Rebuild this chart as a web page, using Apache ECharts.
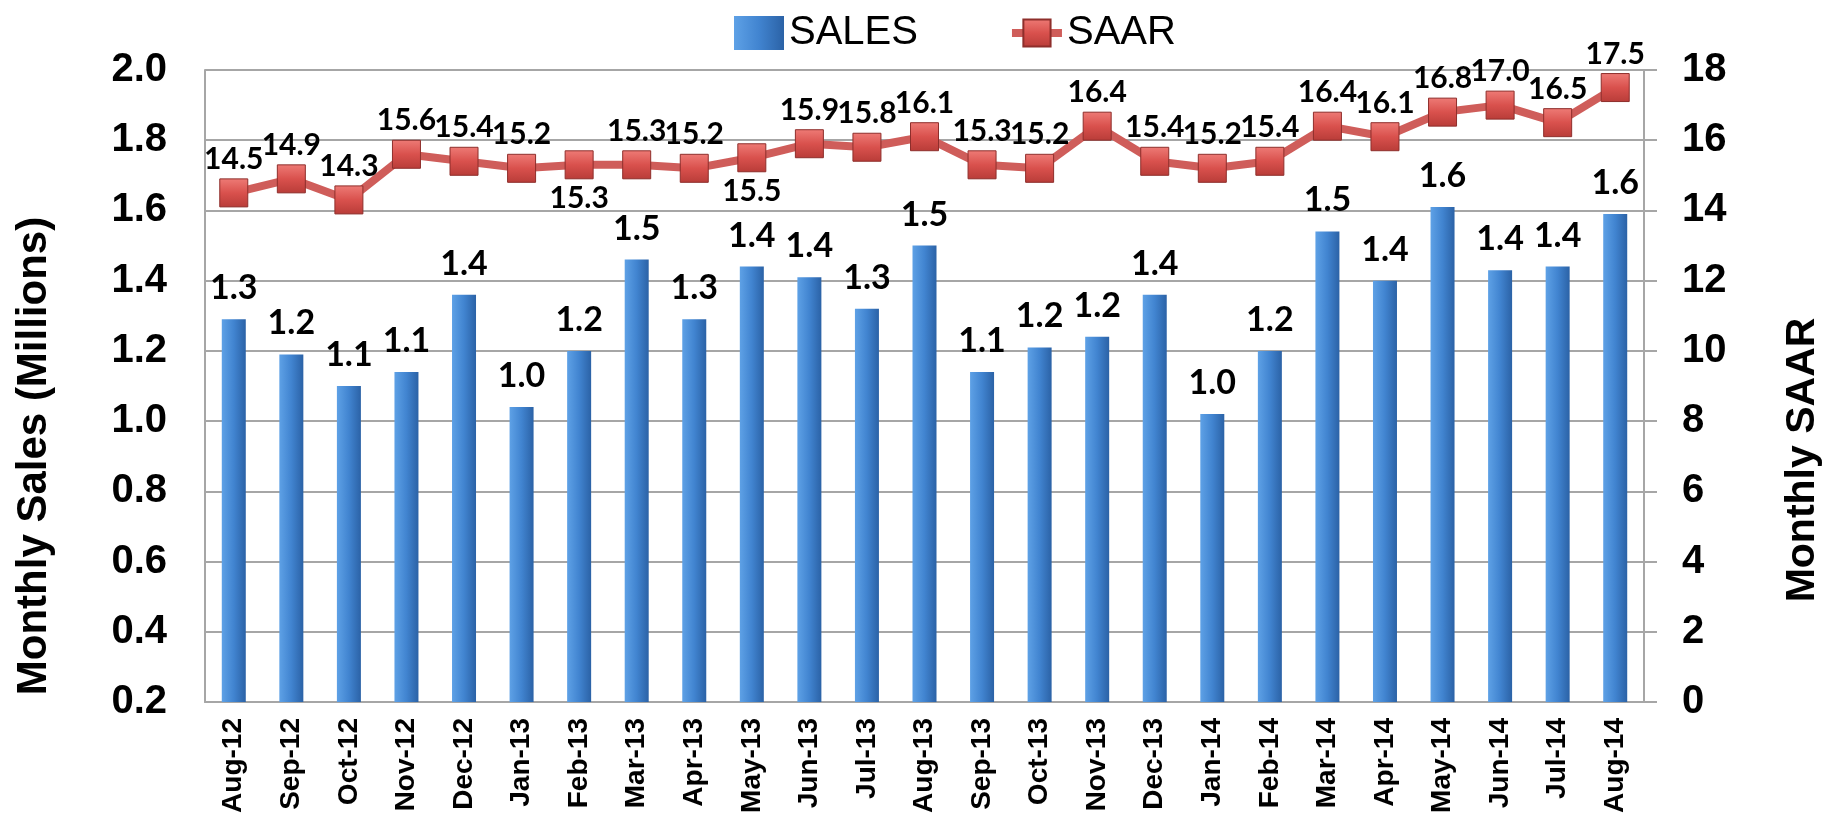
<!DOCTYPE html>
<html>
<head>
<meta charset="utf-8">
<title>Monthly Sales and SAAR</title>
<script src="https://cdn.jsdelivr.net/npm/echarts@6/dist/echarts.min.js"></script>
<style>
  html, body { margin: 0; padding: 0; background: #fff; }
  #chart { width: 1846px; height: 822px; }
</style>
</head>
<body>
<div id="chart"></div>
<script>
// months on the x axis
var categories = ['Aug-12', 'Sep-12', 'Oct-12', 'Nov-12', 'Dec-12', 'Jan-13', 'Feb-13', 'Mar-13',
  'Apr-13', 'May-13', 'Jun-13', 'Jul-13', 'Aug-13', 'Sep-13', 'Oct-13', 'Nov-13', 'Dec-13',
  'Jan-14', 'Feb-14', 'Mar-14', 'Apr-14', 'May-14', 'Jun-14', 'Jul-14', 'Aug-14'];

// monthly sales, millions (left axis)
var sales = [1.29, 1.19, 1.10, 1.14, 1.36, 1.04, 1.20, 1.46, 1.29, 1.44, 1.41, 1.32, 1.50,
  1.14, 1.21, 1.24, 1.36, 1.02, 1.20, 1.54, 1.40, 1.61, 1.43, 1.44, 1.59];

// seasonally adjusted annual rate (right axis)
var saar = [14.5, 14.9, 14.3, 15.6, 15.4, 15.2, 15.3, 15.3, 15.2, 15.5, 15.9, 15.8, 16.1,
  15.3, 15.2, 16.4, 15.4, 15.2, 15.4, 16.4, 16.1, 16.8, 17.0, 16.5, 17.5];

// axis ticks
var salesTicks = { min: 0.2, max: 2.0, step: 0.2 };
var saarTicks = { min: 0, max: 18, step: 2 };

// SAAR points whose label sits under the marker
var saarLabelBelow = ['Feb-13', 'May-13'];

var chart = echarts.init(document.getElementById('chart'));

var barColor = new echarts.graphic.LinearGradient(0, 0, 1, 0, [
  { offset: 0, color: '#5ea1e6' },
  { offset: 0.5, color: '#4184d0' },
  { offset: 1, color: '#2b62a6' }
]);
var markColor = new echarts.graphic.LinearGradient(0, 0, 0, 1, [
  { offset: 0, color: '#ee7b76' },
  { offset: 0.5, color: '#d9514d' },
  { offset: 1, color: '#b83c38' }
]);

var saarData = saar.map(function (v, i) {
  var below = saarLabelBelow.indexOf(categories[i]) >= 0;
  return { value: v, label: { position: below ? 'bottom' : 'top' } };
});

var axisFont = 'Liberation Sans, Arial, sans-serif';
var labelFont = 'Lato, Calibri, sans-serif';

chart.setOption({
  animation: false,
  backgroundColor: '#fff',
  textStyle: { fontFamily: axisFont },
  grid: { left: 205, right: 202, top: 70, bottom: 120 },
  legend: {
    left: 729,
    top: 8,
    itemWidth: 50,
    itemHeight: 34,
    itemGap: 90,
    textStyle: { fontFamily: axisFont, fontSize: 40, color: '#000' },
    data: [
      { name: 'SALES', icon: 'rect' },
      { name: 'SAAR', lineStyle: { width: 8, color: '#cf5d5a' } }
    ]
  },
  xAxis: {
    type: 'category',
    data: categories,
    axisLine: { lineStyle: { color: '#a6a6a6', width: 2 } },
    axisTick: { show: false },
    axisLabel: {
      rotate: 90,
      margin: 16,
      color: '#000',
      fontWeight: 'bold',
      fontSize: 28,
      fontFamily: axisFont,
      interval: 0
    }
  },
  yAxis: [{
    type: 'value',
    min: salesTicks.min,
    max: salesTicks.max,
    interval: salesTicks.step,
    axisLine: { show: true, lineStyle: { color: '#a6a6a6', width: 2 } },
    axisTick: { show: false },
    splitLine: { lineStyle: { color: '#a6a6a6', width: 2 } },
    axisLabel: {
      margin: 38,
      color: '#000',
      fontWeight: 'bold',
      fontSize: 40,
      formatter: function (v) { return v.toFixed(1); }
    }
  }, {
    type: 'value',
    min: saarTicks.min,
    max: saarTicks.max,
    interval: saarTicks.step,
    position: 'right',
    axisLine: { show: true, lineStyle: { color: '#a6a6a6', width: 2 } },
    axisTick: { show: true, length: 13, lineStyle: { color: '#a6a6a6', width: 2 } },
    splitLine: { show: false },
    axisLabel: {
      margin: 38,
      color: '#000',
      fontWeight: 'bold',
      fontSize: 40
    }
  }],
  graphic: [{
    type: 'text',
    x: 34,
    y: 456,
    rotation: Math.PI / 2,
    style: {
      text: 'Monthly Sales (Millions)',
      font: 'bold 42px ' + axisFont,
      fill: '#000',
      align: 'center',
      verticalAlign: 'middle'
    }
  }, {
    type: 'text',
    x: 1803,
    y: 460,
    rotation: Math.PI / 2,
    style: {
      text: 'Monthly SAAR',
      font: 'bold 41px ' + axisFont,
      fill: '#000',
      align: 'center',
      verticalAlign: 'middle'
    }
  }],
  series: [{
    name: 'SALES',
    type: 'bar',
    yAxisIndex: 0,
    barWidth: 24,
    data: sales,
    itemStyle: { color: barColor },
    label: {
      show: true,
      position: 'top',
      distance: 14,
      color: '#000',
      fontFamily: labelFont,
      fontWeight: 'bold',
      fontSize: 34,
      formatter: function (p) { return p.value.toFixed(1); }
    }
  }, {
    name: 'SAAR',
    type: 'line',
    yAxisIndex: 1,
    data: saarData,
    symbol: 'rect',
    symbolSize: 28,
    lineStyle: { color: '#cf5d5a', width: 8 },
    itemStyle: { color: markColor, borderColor: '#8e2e2b', borderWidth: 1 },
    label: {
      show: true,
      distance: 4,
      color: '#000',
      fontFamily: labelFont,
      fontWeight: 'bold',
      fontSize: 30,
      formatter: function (p) { return p.value.toFixed(1); }
    },
    z: 3
  }]
});
</script>
</body>
</html>
